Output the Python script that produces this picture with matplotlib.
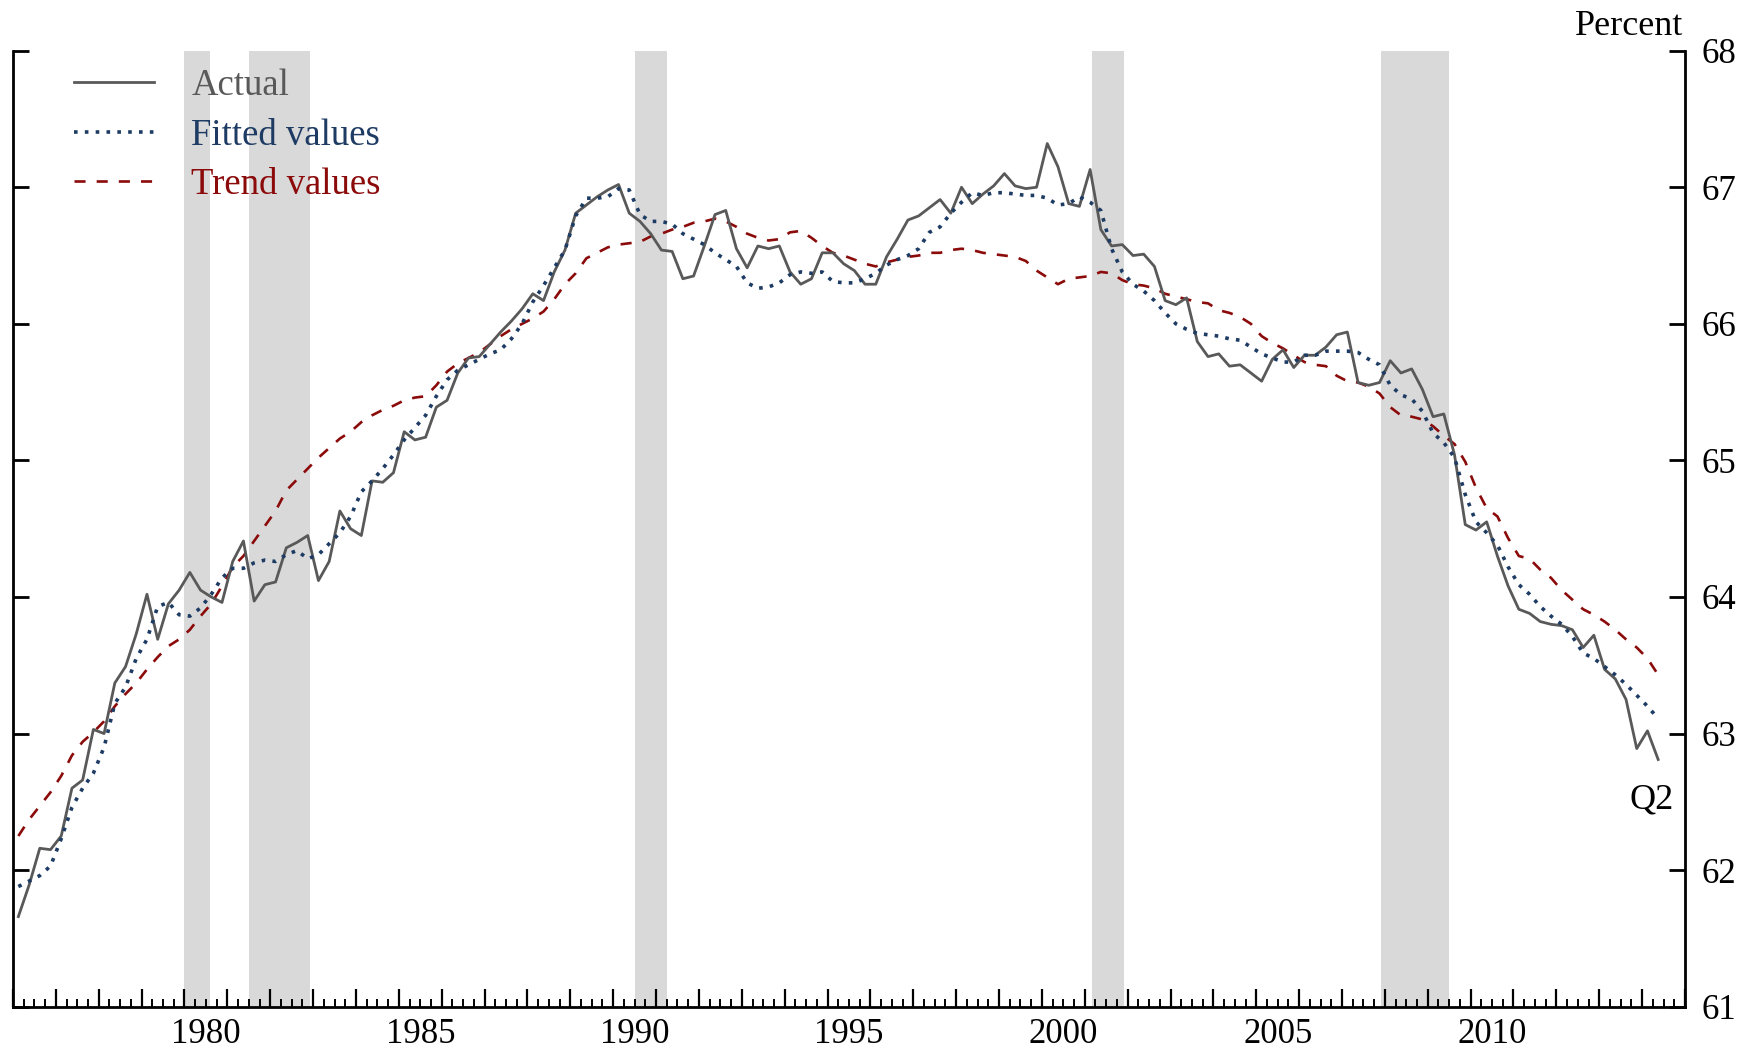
import numpy as np
import matplotlib
matplotlib.use('Agg')
import matplotlib.pyplot as plt

# ---------------- data (quarterly, 1976Q1 - 2014Q2) ----------------
start_year = 1976
actual = [
    61.66, 61.89, 62.16, 62.15, 62.25, 62.60, 62.66, 63.03, 63.00, 63.37,
    63.49, 63.73, 64.02, 63.69, 63.95, 64.05, 64.18, 64.05, 64.00, 63.96,
    64.26, 64.41, 63.97, 64.09, 64.11, 64.36, 64.40, 64.45, 64.12, 64.26,
    64.63, 64.50, 64.45, 64.85, 64.84, 64.91, 65.21, 65.15, 65.17, 65.39,
    65.44, 65.64, 65.75, 65.76, 65.85, 65.94, 66.02, 66.11, 66.22, 66.17,
    66.38, 66.54, 66.81, 66.87, 66.93, 66.98, 67.02, 66.81, 66.75, 66.66,
    66.54, 66.53, 66.33, 66.35, 66.57, 66.80, 66.83, 66.55, 66.41, 66.57,
    66.55, 66.57, 66.38, 66.29, 66.33, 66.52, 66.52, 66.44, 66.39, 66.29,
    66.29, 66.49, 66.62, 66.76, 66.79, 66.85, 66.91, 66.81, 67.00, 66.88,
    66.95, 67.01, 67.10, 67.01, 66.99, 67.00, 67.32, 67.15, 66.88, 66.86,
    67.13, 66.69, 66.57, 66.58, 66.50, 66.51, 66.42, 66.17, 66.14, 66.19,
    65.87, 65.76, 65.78, 65.69, 65.70, 65.64, 65.58, 65.74, 65.81, 65.68,
    65.77, 65.77, 65.83, 65.92, 65.94, 65.57, 65.55, 65.57, 65.73, 65.64,
    65.67, 65.52, 65.32, 65.34, 65.04, 64.53, 64.49, 64.55, 64.30, 64.08,
    63.91, 63.88, 63.82, 63.80, 63.79, 63.76, 63.63, 63.72, 63.47, 63.40,
    63.25, 62.89, 63.02, 62.81,
]
fitted = [
    61.88, 61.92, 61.96, 62.03, 62.23, 62.46, 62.60, 62.71, 62.90, 63.22,
    63.34, 63.55, 63.69, 63.93, 63.96, 63.87, 63.86, 63.92, 64.02, 64.14,
    64.21, 64.21, 64.25, 64.27, 64.26, 64.31, 64.34, 64.28, 64.31, 64.39,
    64.47, 64.59, 64.77, 64.85, 64.94, 65.04, 65.15, 65.24, 65.33, 65.47,
    65.59, 65.66, 65.70, 65.74, 65.78, 65.81, 65.89, 66.00, 66.16, 66.28,
    66.41, 66.54, 66.79, 66.92, 66.92, 66.93, 66.99, 66.98, 66.80, 66.75,
    66.75, 66.73, 66.66, 66.62, 66.58, 66.52, 66.47, 66.42, 66.30, 66.26,
    66.27, 66.30, 66.36, 66.38, 66.37, 66.38, 66.31, 66.30, 66.30, 66.33,
    66.37, 66.43, 66.47, 66.50, 66.55, 66.67, 66.71, 66.81, 66.89, 66.96,
    66.94, 66.96, 66.96, 66.95, 66.94, 66.94, 66.92, 66.87, 66.88, 66.93,
    66.89, 66.83, 66.55, 66.38, 66.29, 66.24, 66.17, 66.08, 66.00, 65.96,
    65.93, 65.92, 65.91, 65.89, 65.88, 65.83, 65.78, 65.75, 65.72, 65.72,
    65.77, 65.77, 65.80, 65.80, 65.80, 65.79, 65.74, 65.70, 65.55, 65.48,
    65.45, 65.36, 65.20, 65.13, 65.02, 64.75, 64.55, 64.47, 64.38, 64.22,
    64.09, 64.02, 63.93, 63.86, 63.80, 63.71, 63.59, 63.55, 63.49, 63.43,
    63.36, 63.28, 63.20, 63.11,
]
trend = [
    62.25, 62.37, 62.47, 62.57, 62.69, 62.84, 62.94, 63.01, 63.09, 63.20,
    63.29, 63.37, 63.47, 63.56, 63.64, 63.69, 63.76, 63.86, 63.95, 64.08,
    64.22, 64.30, 64.41, 64.52, 64.63, 64.78, 64.86, 64.94, 65.02, 65.09,
    65.16, 65.21, 65.28, 65.33, 65.37, 65.40, 65.44, 65.46, 65.47, 65.55,
    65.65, 65.71, 65.75, 65.79, 65.85, 65.91, 65.96, 66.00, 66.04, 66.09,
    66.18, 66.29, 66.37, 66.48, 66.52, 66.56, 66.58, 66.59, 66.60, 66.64,
    66.66, 66.69, 66.71, 66.74, 66.75, 66.77, 66.75, 66.71, 66.66, 66.63,
    66.61, 66.62, 66.67, 66.68, 66.63, 66.57, 66.52, 66.50, 66.47, 66.44,
    66.42, 66.45, 66.47, 66.49, 66.50, 66.52, 66.52, 66.54, 66.55, 66.54,
    66.52, 66.51, 66.50, 66.49, 66.46, 66.39, 66.34, 66.29, 66.33, 66.34,
    66.35, 66.38, 66.37, 66.32, 66.29, 66.28, 66.26, 66.22, 66.20, 66.18,
    66.16, 66.15, 66.10, 66.08, 66.05, 66.00, 65.91, 65.86, 65.82, 65.77,
    65.72, 65.70, 65.69, 65.62, 65.58, 65.57, 65.54, 65.49, 65.39, 65.33,
    65.32, 65.30, 65.25, 65.18, 65.12, 64.99, 64.80, 64.65, 64.59, 64.43,
    64.30, 64.28, 64.20, 64.14, 64.05, 63.98, 63.91, 63.87, 63.82, 63.76,
    63.69, 63.63, 63.55, 63.43,
]
# recessions (decimal years: start, end)
recessions = [(1980.0, 1980.6), (1981.5, 1982.92), (1990.5, 1991.25),
              (2001.17, 2001.92), (2007.92, 2009.5)]
year_labels = [1980, 1985, 1990, 1995, 2000, 2005, 2010]
y_ticks = [61, 62, 63, 64, 65, 66, 67, 68]
series_names = ['Actual', 'Fitted values', 'Trend values']

# ---------------- style ----------------
plt.rcParams['font.family'] = ['Liberation Serif', 'DejaVu Serif']
c_actual = '#595959'
c_fitted = '#1d3b63'
c_trend = '#8b0a0a'

n = len(actual)
t = start_year + 0.125 + np.arange(n) / 4.0

fig = plt.figure(figsize=(17.42, 10.49), dpi=100)
ax = fig.add_axes([0.00746, 0.0403, 0.9598, 0.9114])

for s, e in recessions:
    ax.axvspan(s, e, color='#d9d9d9', lw=0, zorder=0)

ax.plot(t, actual, color=c_actual, lw=2.0, label=series_names[0], zorder=3)
ax.plot(t, fitted, color=c_fitted, lw=2.6, linestyle=(0, (1, 2.0)),
        dash_capstyle='butt', label=series_names[1], zorder=4)
ax.plot(t, trend, color=c_trend, lw=1.9, linestyle=(0, (4.2, 4.2)),
        label=series_names[2], zorder=2)

ax.set_xlim(1976, 2015)
ax.set_ylim(61, 68)

for side in ['left', 'right', 'bottom']:
    ax.spines[side].set_linewidth(2.0)
ax.spines['top'].set_visible(False)

# y ticks on both sides, labels right
ax.set_yticks(y_ticks)
ax.tick_params(axis='y', which='major', left=True, right=True,
               labelleft=False, labelright=True, direction='in',
               length=11.5, width=2.0, labelsize=25, pad=12)

# x ticks: yearly major, quarterly minor; labels centred on years
years = np.arange(1976, 2016)
ax.set_xticks(years)
ax.set_xticklabels([''] * len(years))
quarters = [y + q / 4 for y in range(1976, 2015) for q in (1, 2, 3)]
ax.set_xticks(quarters, minor=True)
ax.tick_params(axis='x', which='major', direction='in', length=13,
               width=1.6, top=False)
ax.tick_params(axis='x', which='minor', direction='in', length=5.8,
               width=1.4, top=False)
for yr in year_labels:
    ax.text(yr + 0.5, -0.012, str(yr), transform=ax.get_xaxis_transform(),
            ha='center', va='top', fontsize=25)

# legend
leg = ax.legend(loc='upper left', bbox_to_anchor=(0.0362, 0.981),
                frameon=False, fontsize=26.5, handlelength=2.2,
                handletextpad=1.0, labelspacing=0.40, borderpad=0,
                borderaxespad=0)
for txt, col in zip(leg.get_texts(), [c_actual, c_fitted, c_trend]):
    txt.set_color(col)

fig.text(0.9665, 0.975, 'Percent', ha='right', va='center', fontsize=26)
ax.text(2014.74, 62.51, 'Q2', ha='right', va='center', fontsize=26)

fig.savefig('out.png', dpi=100)
